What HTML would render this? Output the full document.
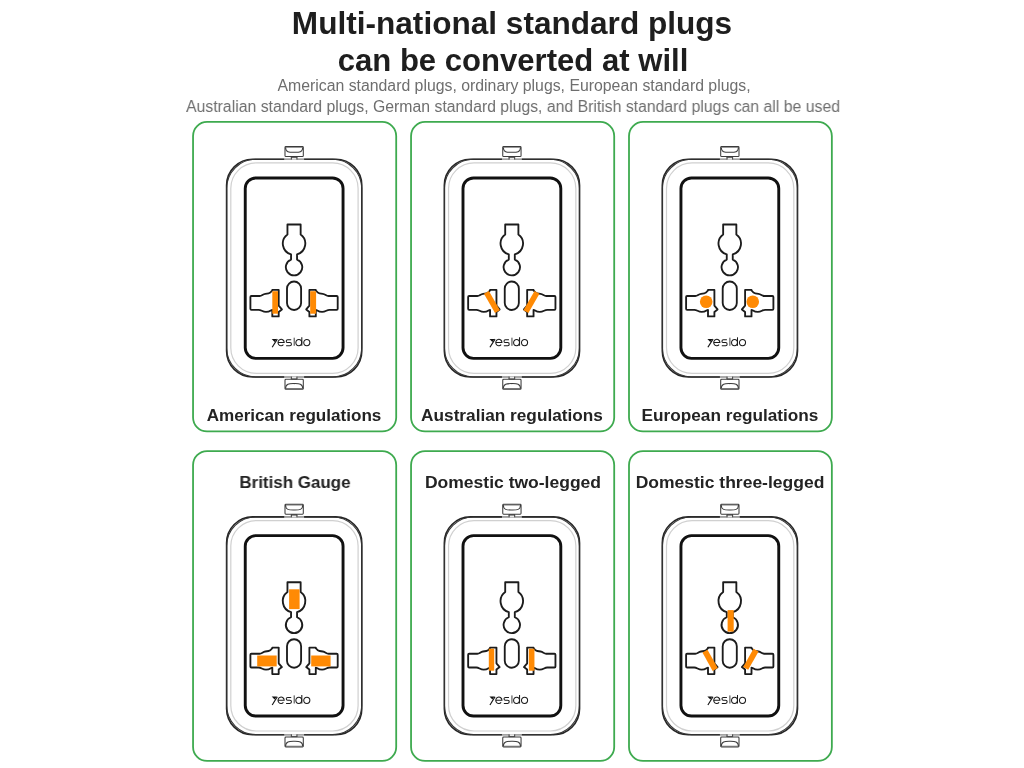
<!DOCTYPE html>
<html><head><meta charset="utf-8"><title>Multi-national standard plugs</title>
<style>
html,body{margin:0;padding:0;background:#fff;}
body{width:1024px;height:768px;position:relative;overflow:hidden;font-family:"Liberation Sans",sans-serif;}
svg{position:absolute;left:0;top:0;}
.t{position:absolute;white-space:nowrap;line-height:1;transform:translateX(-50%);will-change:transform;}
.h1{font-weight:bold;font-size:31px;color:#1e1e1e;}
.sub{font-size:15.8px;color:#6e6e6e;}
.lb{font-weight:bold;font-size:17px;color:#232323;}
</style></head><body>
<svg width="1024" height="768" viewBox="0 0 1024 768">
<defs>
<g id="sock">
  <!-- tabs -->
  <g fill="#fff" stroke="#3c3c3c" stroke-width="1.05">
    <rect x="291.3" y="156.3" width="5.6" height="3.2" stroke-width="0.9"/>
    <rect x="285" y="146.55" width="18.3" height="10" rx="0.9"/>
    <path d="M285.5,147.2 C285.7,152.6 289.5,152.3 294.15,152.3 C298.8,152.3 302.6,152.6 302.8,147.2" fill="none"/>
    <path d="M286,147.4 H302.3" stroke-width="0.6"/>
    <rect x="291.3" y="376.6" width="5.6" height="3.2" stroke-width="0.9"/>
    <rect x="285" y="379.3" width="18.3" height="10" rx="0.9"/>
    <path d="M285.5,388.7 C285.7,383.3 289.5,383.6 294.15,383.6 C298.8,383.6 302.6,383.3 302.8,388.7" fill="none"/>
    <path d="M286,388.5 H302.3" stroke-width="0.6"/>
  </g>
  <!-- housing -->
  <rect x="226.6" y="159.2" width="135.2" height="217.8" rx="26" fill="#fff" stroke="#262626" stroke-width="1.6"/>
  <rect x="226.7" y="159.3" width="135" height="217.6" rx="29" fill="none" stroke="#333" stroke-width="1.05"/>
  <rect x="284.2" y="158" width="19.9" height="2.4" fill="#fff" opacity="0.55"/>
  <rect x="284.2" y="375.8" width="19.9" height="2.4" fill="#fff" opacity="0.55"/>
  <path d="M291.4,159.6 V157.3 H296.9 V159.6" fill="#e8e8e8" stroke="#333" stroke-width="0.9"/>
  <path d="M291.4,376.6 V378.9 H296.9 V376.6" fill="#e8e8e8" stroke="#333" stroke-width="0.9"/>
  <rect x="230.8" y="162.9" width="127.3" height="210.4" rx="25.5" fill="none" stroke="#d0d0d0" stroke-width="1.2"/>
  <rect x="245.25" y="177.95" width="97.8" height="180.4" rx="10.5" fill="#fff" stroke="#111" stroke-width="2.9"/>
  <!-- holes -->
  <g fill="#fff" stroke="#1c1c1c" stroke-width="1.85" stroke-linejoin="round">
    <path d="M287.45,234.4 L287.45,224.5 L300.65,224.5 L300.65,234.4 A11.3,11.3 0 0 1 297.05,254.4 L297.05,259.55 A8.2,8.2 0 1 1 291.05,259.55 L291.05,254.4 A11.3,11.3 0 0 1 287.45,234.4 Z"/>
    <rect x="287" y="281.5" width="14.1" height="28.5" rx="7.05"/>
    <path id="hl" d="M251.4,296 L259.6,296 C262,296 262.6,294.2 265.3,293.8 L268.6,293.3 C270.6,293 271.4,291.6 272.3,290.4 L272.3,289.9 L278.7,289.9 L278.7,305.6 L281.9,309.4 L278.7,311.9 L278.7,316.4 L272.3,316.4 L272.3,309.9 C270.8,309.9 270.3,311.9 266,311.9 C262.3,311.9 261.5,309.8 258.6,309.8 L251.4,309.8 Q250.4,309.8 250.4,308.8 L250.4,297 Q250.4,296 251.4,296 Z"/>
    <use href="#hl" transform="translate(588.1,0) scale(-1,1)"/>
  </g>
  <!-- logo -->
  <g transform="translate(271.6,337.3)">
    <path d="M0.1,1.6 L5.2,1.6 L3,4.6 Z" fill="#111"/>
    <path d="M5.7,1.8 L0.6,10" stroke="#111" stroke-width="1.15" fill="none"/>
    <g fill="none" stroke="#1a1a1a" stroke-width="1.05">
      <path d="M6.4,5.3 H12.6 A3.1,3.2 0 1 0 11.8,7.4"/>
      <path d="M19.6,2.4 H16.1 A1.45,1.45 0 0 0 16.1,5.3 H18.3 A1.55,1.55 0 0 1 18.3,8.4 H14.5"/>
      <path d="M22.6,0.4 V8.5" stroke-width="0.85"/>
      <ellipse cx="27.2" cy="5.3" rx="2.95" ry="3.15"/>
      <path d="M30.2,0 V8.5"/>
      <ellipse cx="35.2" cy="5.3" rx="3.05" ry="3.15"/>
    </g>
  </g>
</g>
</defs>
<rect x="193.05" y="121.95" width="203.15" height="309.45" rx="14" fill="#fff" stroke="#3eaa4f" stroke-width="1.8"/>
<rect x="411.05" y="121.95" width="203.15" height="309.45" rx="14" fill="#fff" stroke="#3eaa4f" stroke-width="1.8"/>
<rect x="629.0" y="121.95" width="202.85" height="309.45" rx="14" fill="#fff" stroke="#3eaa4f" stroke-width="1.8"/>
<rect x="193.05" y="451.05" width="203.15" height="309.85" rx="14" fill="#fff" stroke="#3eaa4f" stroke-width="1.8"/>
<rect x="411.05" y="451.05" width="203.15" height="309.85" rx="14" fill="#fff" stroke="#3eaa4f" stroke-width="1.8"/>
<rect x="629.0" y="451.05" width="202.85" height="309.85" rx="14" fill="#fff" stroke="#3eaa4f" stroke-width="1.8"/>
<g transform="translate(0,0)"><use href="#sock"/><g fill="#ff8a04"><rect x="272.3" y="291.2" width="5.7" height="22.5"/><rect x="310.2" y="291.2" width="5.9" height="22.5"/></g></g>
<g transform="translate(217.75,0)"><use href="#sock"/><g fill="#ff8a04"><rect x="271.35" y="290.90" width="5.7" height="22.2" transform="rotate(-30 274.2 302.0)"/><rect x="310.85" y="290.90" width="5.7" height="22.2" transform="rotate(30 313.7 302.0)"/></g></g>
<g transform="translate(435.7,0)"><use href="#sock"/><g fill="#ff8a04"><circle cx="270.5" cy="301.7" r="6.3"/><circle cx="317.05" cy="301.7" r="6.3"/></g></g>
<g transform="translate(0,357.7)"><use href="#sock"/><g fill="#ff8a04"><rect x="289.1" y="231.6" width="10.5" height="19.8"/><rect x="257.2" y="297.8" width="19.5" height="10.9"/><rect x="311.2" y="297.8" width="19.4" height="10.9"/></g></g>
<g transform="translate(217.75,357.7)"><use href="#sock"/><g fill="#ff8a04"><rect x="271.05" y="291" width="5.4" height="22"/><rect x="311.1" y="291" width="5.6" height="22"/></g></g>
<g transform="translate(435.7,357.7)"><use href="#sock"/><g fill="#ff8a04"><rect x="291.9" y="252.4" width="6.1" height="21.5"/><rect x="271.50" y="292.10" width="5.8" height="21" transform="rotate(-29.3 274.4 302.6)"/><rect x="312.25" y="291.10" width="5.8" height="21" transform="rotate(29.5 315.15 301.6)"/></g></g>
</svg>
<div class="t h1" id="h1a" style="left:512.35px;top:7.76px;letter-spacing:0.000px;transform:translateX(-50%) scaleX(1.0185);">Multi-national standard plugs</div>
<div class="t h1" id="h1b" style="left:512.60px;top:44.96px;letter-spacing:0.000px;transform:translateX(-50%) scaleX(1.0025);">can be converted at will</div>
<div class="t sub" id="s1" style="left:513.90px;top:77.83px;letter-spacing:0.000px;transform:translateX(-50%) scaleX(1.0016);">American standard plugs, ordinary plugs, European standard plugs,</div>
<div class="t sub" id="s2" style="left:513.20px;top:98.53px;letter-spacing:0.000px;transform:translateX(-50%) scaleX(0.9994);">Australian standard plugs, German standard plugs, and British standard plugs can all be used</div>
<div class="t lb" id="l1" style="left:294.25px;top:406.91px;letter-spacing:0.000px;transform:translateX(-50%) scaleX(1.0050);">American regulations</div>
<div class="t lb" id="l2" style="left:512.30px;top:406.91px;letter-spacing:0.000px;transform:translateX(-50%) scaleX(1.0129);">Australian regulations</div>
<div class="t lb" id="l3" style="left:729.60px;top:406.91px;letter-spacing:0.000px;transform:translateX(-50%) scaleX(1.0117);">European regulations</div>
<div class="t lb" id="l4" style="left:294.70px;top:473.91px;letter-spacing:0.000px;transform:translateX(-50%) scaleX(0.9976);">British Gauge</div>
<div class="t lb" id="l5" style="left:512.55px;top:473.91px;letter-spacing:0.000px;transform:translateX(-50%) scaleX(1.0300);">Domestic two-legged</div>
<div class="t lb" id="l6" style="left:730.25px;top:473.91px;letter-spacing:0.000px;transform:translateX(-50%) scaleX(1.0297);">Domestic three-legged</div>
</body></html>
